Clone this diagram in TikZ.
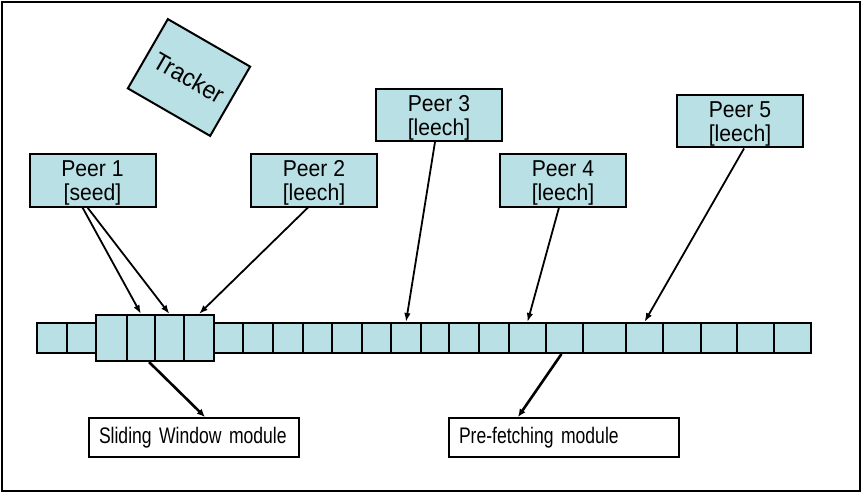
\documentclass[tikz,border=0pt]{standalone}
\usepackage{fontspec}
\setmainfont{Liberation Sans}[FakeStretch=0.92]
\newfontfamily\modfont{Liberation Sans}[FakeStretch=0.78]
\usetikzlibrary{arrows.meta}
\definecolor{cellblue}{RGB}{185,224,228}
\tikzset{
  peer/.style={draw, line width=2pt, fill=cellblue, minimum width=126pt, minimum height=52pt,
    inner sep=0pt, align=center, text depth=0pt, font=\fontsize{23}{24}\selectfont},
  tracker/.style={peer, minimum width=95pt, minimum height=80pt, font=\fontsize{25}{26}\selectfont},
  cell/.style={draw, line width=2pt, fill=cellblue, inner sep=0pt, minimum height=#1},
  module/.style={draw, line width=2pt, fill=white, minimum height=39pt, inner xsep=10pt,
    inner ysep=0pt, align=left, anchor=west, font=\modfont\fontsize{22.5}{24}\selectfont},
  link/.style={line width=1.8pt, -{Latex[length=9pt,width=6.5pt]}},
  modlink/.style={line width=2.6pt, -{Latex[length=8pt,width=7pt]}}
}
\begin{document}
\begin{tikzpicture}[x=1pt,y=-1pt]

\useasboundingbox (0,0) rectangle (865,500);
\draw[line width=2pt] (2,2) rectangle (860,491);

\node[tracker, rotate=-30] (tr) at (189,77.5) {Tracker};

\node[peer] (p1) at (92.5,180.5) {Peer 1\\{}[seed]};
\node[peer] (p2) at (314,180.5) {Peer 2\\{}[leech]};
\node[peer] (p3) at (439,115) {Peer 3\\{}[leech]};
\node[peer] (p4) at (563,180.5) {Peer 4\\{}[leech]};
\node[peer] (p5) at (740,121.5) {Peer 5\\{}[leech]};

\foreach \l/\r/\h [count=\i] in {37/67/30, 67/96/30, 96/127/46, 127/155/46, 155/184/46, 184/214/46,
    214/243/30, 243/273/30, 273/303/30, 303/332/30, 332/362/30, 362/391/30, 391/421/30, 421/449/30,
    449/479/30, 479/509/30, 509/546/30, 546/583/30, 583/626/30, 626/663/30, 663/701/30, 701/737/30,
    737/774/30, 774/811/30}
  \node[cell=\h, minimum width=\r-\l] (b\i) at ({(\l+\r)/2},338) {};

\node[module, text width=190pt] (sw) at (88,437.5) {Sliding Window module};
\node[module, text width=210pt] (pf) at (448,437.5) {Pre-fetching module};

\draw[link] ([xshift=-10pt]p1.south) -- (b4.north);
\draw[link] ([xshift=-5pt]p1.south) -- (b5.north);
\draw[link] ([xshift=-6pt]p2.south) -- (b6.north);
\draw[link] ([xshift=-4pt]p3.south) -- (b13.north);
\draw[link] ([xshift=-4pt]p4.south) -- (b17.north);
\draw[link] ([xshift=4pt]p5.south) -- (b20.north);

\draw[modlink] ([xshift=8pt]b4.south) -- ([xshift=11pt]sw.north);
\draw[modlink] ([xshift=-3pt]b18.south) -- ([xshift=-46pt]pf.north);

\end{tikzpicture}
\end{document}
